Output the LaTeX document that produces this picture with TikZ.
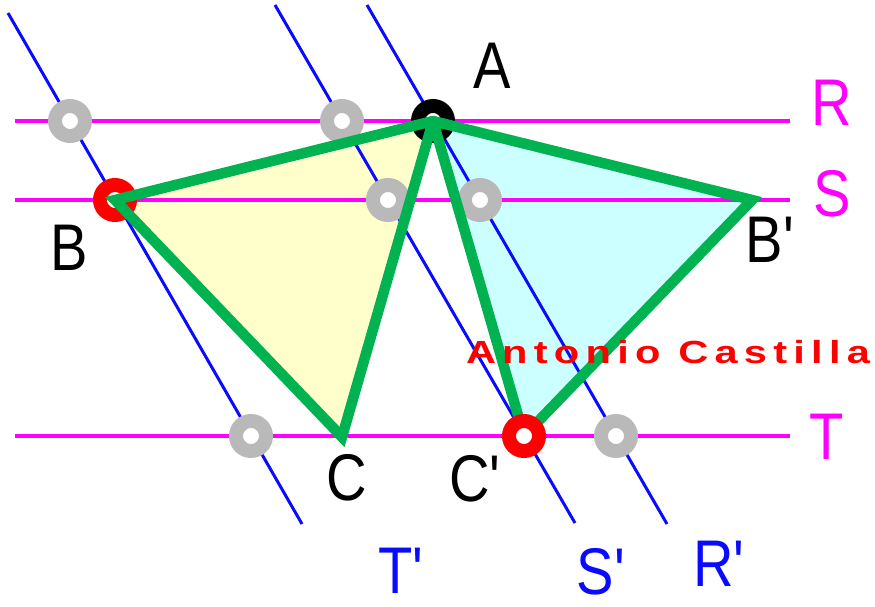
\documentclass[tikz,border=0pt]{standalone}
\usepackage{fontspec}
\newfontfamily\lblfont{Liberation Sans}[Ligatures=TeXOff]
\newfontfamily\signfont{Liberation Sans Bold}[Ligatures=TeXOff,LetterSpace=15]
\definecolor{magline}{RGB}{255,0,255}
\definecolor{blueline}{RGB}{10,10,255}
\definecolor{edgegreen}{RGB}{0,178,80}
\definecolor{yfill}{RGB}{255,255,204}
\definecolor{cfill}{RGB}{204,255,255}
\definecolor{ringgray}{RGB}{185,185,185}
\tikzset{
  hline/.style={magline,line width=4pt},
  sline/.style={blueline,line width=3pt},
  edge/.style={edgegreen,line width=10.5pt,line join=miter,line cap=round},
  ring/.style={circle,draw=#1,fill=white,line width=14pt,minimum size=30pt,inner sep=0pt},
  lbl/.style={font=\lblfont\fontsize{66}{66}\selectfont,inner sep=0pt,xscale=0.85},
}
\begin{document}
\begin{tikzpicture}[x=1pt,y=-1pt]
\useasboundingbox (0,0) rectangle (875,607);
% key points
\coordinate (A) at (433,121);
\coordinate (B) at (115,200);
\coordinate (Bp) at (752,200);
\coordinate (C) at (342,437);
\coordinate (Cp) at (524,436);
% line ends
\coordinate (R1) at (15,121); \coordinate (R2) at (790,121);
\coordinate (S1) at (15,200); \coordinate (S2) at (790,200);
\coordinate (T1) at (15,436); \coordinate (T2) at (790,436);
\coordinate (Tp1) at (8,13);   \coordinate (Tp2) at (302,524);
\coordinate (Sp1) at (275,5);  \coordinate (Sp2) at (575,523);
\coordinate (Rp1) at (367,5);  \coordinate (Rp2) at (667,524);
% fills
\fill[yfill] (A) -- (B) -- (C) -- cycle;
\fill[cfill] (A) -- (Bp) -- (Cp) -- cycle;
% lines
\draw[hline] (R1) -- (R2);
\draw[hline] (S1) -- (S2);
\draw[hline] (T1) -- (T2);
\draw[sline] (Tp1) -- (Tp2);
\draw[sline] (Sp1) -- (Sp2);
\draw[sline] (Rp1) -- (Rp2);
% gray rings
\node[ring=ringgray] (g1) at (70,121) {};
\node[ring=ringgray] (g2) at (342,121) {};
\node[ring=ringgray] (g3) at (388,200) {};
\node[ring=ringgray] (g4) at (480,200) {};
\node[ring=ringgray] (g5) at (251,436) {};
\node[ring=ringgray] (g6) at (616,436) {};
\node[ring=black] (nA) at (A) {};
\node[ring=red] (nB) at (B) {};
% triangle edges
\draw[edge] (A) -- (B) -- (C) -- (A);
\draw[edge] (A) -- (Bp) -- (Cp) -- (A);
\node[ring=red] (nCp) at (Cp) {};
% labels
\node[lbl] (lA) at (492,66) {A};
\node[lbl] (lB) at (69,248) {B};
\node[lbl] (lBp) at (770,240) {B'};
\node[lbl] (lC) at (347,478) {C};
\node[lbl] (lCp) at (475,479) {C'};
\node[lbl,magline] (lR) at (832,103) {R};
\node[lbl,magline] (lS) at (832,194) {S};
\node[lbl,magline] (lT) at (827,437) {T};
\node[lbl,blueline] (lTp) at (401,571) {T'};
\node[lbl,blueline] (lSp) at (601,572) {S'};
\node[lbl,blueline] (lRp) at (719,564) {R'};
\node[red,inner sep=0pt,xscale=1.3,font=\signfont\fontsize{32}{32}\selectfont] (sig) at (668,352) {Antonio Castilla};
\end{tikzpicture}
\end{document}
